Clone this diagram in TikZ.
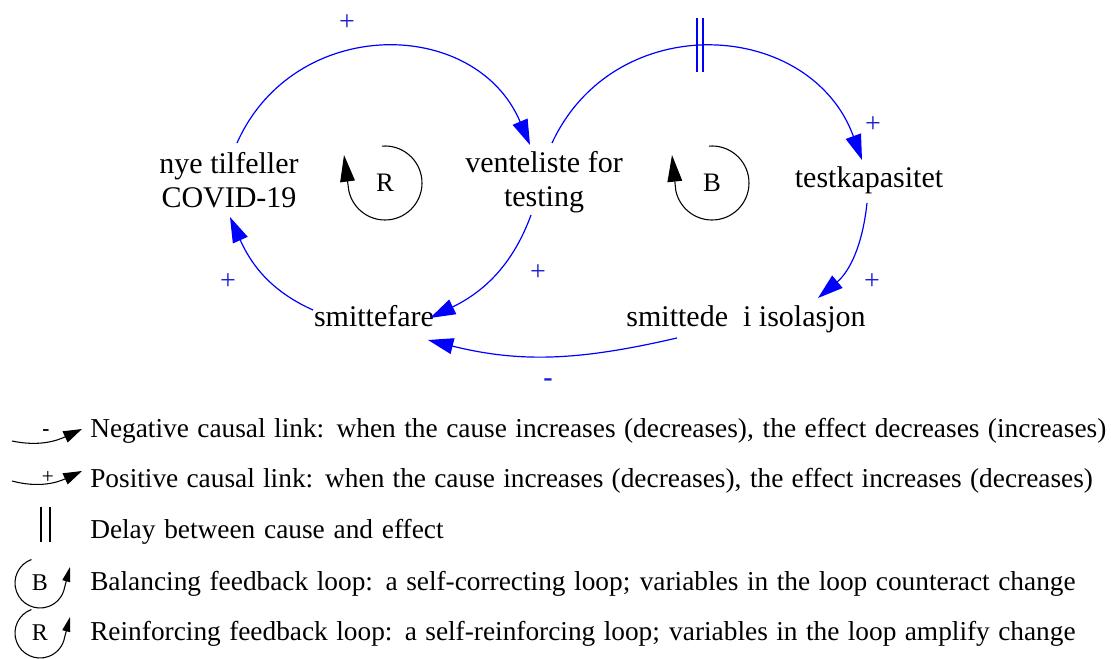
\documentclass[tikz,border=0pt]{standalone}
\usepackage{fontspec}
\setmainfont{Liberation Serif}
\newfontfamily\tnr{Liberation Serif}
\usetikzlibrary{arrows.meta,calc}
\definecolor{linkblue}{RGB}{0,0,255}
\definecolor{polblue}{RGB}{30,30,210}
\begin{document}
\begin{tikzpicture}[x=0.75pt,y=0.75pt,
  var/.style={inner sep=0pt,font=\tnr\fontsize{22.5}{25.5}\selectfont,align=center},
  pol/.style={inner sep=0pt,text=polblue,font=\tnr\fontsize{21}{21}\selectfont},
  link/.style={draw=linkblue,line width=0.9pt,-{Triangle[length=19pt,width=12pt]}},
  delaymark/.style={draw=linkblue,line width=0.9pt},
  loopl/.style={draw=black,line width=0.8pt},
  looplab/.style={inner sep=0pt,font=\tnr\fontsize{20}{20}\selectfont},
  leglab/.style={inner sep=0pt,font=\tnr\fontsize{18}{18}\selectfont},
  legtext/.style={inner sep=0pt,anchor=base west,font=\tnr\fontsize{20.5}{20.5}\selectfont},
  legsign/.style={inner sep=0pt,font=\tnr\fontsize{16}{16}\selectfont},
  leglink/.style={draw=black,line width=0.8pt,-{Triangle[length=14pt,width=9pt]}},
]
\useasboundingbox (0,0) rectangle (1111,-659);

% variables
\node[var] (nye) at (229,-180) {nye tilfeller\\COVID-19};
\node[var] (vent) at (544,-182) {venteliste for\\testing};
\node[var,anchor=base] (testk) at (869,-188) {testkapasitet};
\node[var,anchor=base] (smitte) at (374,-327) {smittefare};
\node[var,anchor=base] (isol) at (746,-327) {smittede\ \ i isolasjon};

% causal links
\draw[link] ($(nye)+(8,37)$) to[out=66,in=113,looseness=1.22] ($(vent)+(-14,37)$);
\draw[link] ($(vent)+(8,39)$) to[out=65,in=110,looseness=1.235] ($(testk.base)+(-7,28)$);
\draw[link] ($(vent)+(-13,-33)$) to[out=250,in=26] ($(smitte.base)+(56,9)$);
\draw[link] ($(smitte.base)+(-61,17)$) to[out=156,in=-66] ($(nye)+(1,-37)$);
\draw[link] ($(isol.base)+(-69,-11)$) to[out=193,in=-14] ($(smitte.base)+(54,-13)$);
\draw[link] ($(testk.base)+(-2,-15)$) to[out=264,in=40] ($(isol.base)+(72,29)$);

% delay
\draw[delaymark] (697,-18) -- (697,-72) (703,-18) -- (703,-72);

% polarities
\node[pol] (p1) at (347,-23) {+};
\node[pol] (p2) at (873,-125) {+};
\node[pol] (p3) at (538,-273) {+};
\node[pol] (p4) at (228,-282) {+};
\node[pol] (p5) at (872,-282) {+};
\node[pol,font=\tnr\fontsize{21}{21}\selectfont\bfseries] (m1) at (548,-383) {-};

% loop symbols
\node[looplab] (Rl) at (385,-183) {R};
\draw[loopl,-{Triangle[length=20pt,width=11pt]}] ($(Rl)+(95:37)$) arc[start angle=95,end angle=-168,radius=37] -- ($(Rl)+(-41,28)$);
\node[looplab] (Bl) at (712,-183) {B};
\draw[loopl,-{Triangle[length=20pt,width=11pt]}] ($(Bl)+(95:37)$) arc[start angle=95,end angle=-168,radius=37] -- ($(Bl)+(-40,28)$);

% legend
\node[legtext] (l1) at (90,-437) {\makebox[762pt][s]{Negative causal link: when the cause increases (decreases), the effect decreases (increases)}};
\draw[leglink] ($(l1.base west)+(-78,-4)$) to[out=-12,in=205] ($(l1.base west)+(-8,8)$);
\node[legsign,font=\tnr\fontsize{16}{16}\selectfont\bfseries] (s1) at ($(l1.base west)+(-44,4)$) {-};

\node[legtext] (l2) at (90,-487) {\makebox[752pt][s]{Positive causal link: when the cause increases (decreases), the effect increases (decreases)}};
\draw[leglink] ($(l2.base west)+(-78,6)$) to[out=-15,in=205] ($(l2.base west)+(-8,16)$);
\node[legsign] (s2) at ($(l2.base west)+(-42,10)$) {+};

\node[legtext] (l3) at (90,-538) {\makebox[265pt][s]{Delay between cause and effect}};
\draw[draw=black,line width=0.8pt] ($(l3.base west)+(-49,31)$) -- ($(l3.base west)+(-49,-4)$)
  ($(l3.base west)+(-40,31)$) -- ($(l3.base west)+(-40,-4)$);

\node[legtext] (l4) at (90,-590) {\makebox[739pt][s]{Balancing feedback loop: a self-correcting loop; variables in the loop counteract change}};
\node[leglab] (lb) at (40,-583) {B};
\draw[loopl,-{Triangle[length=11pt,width=6pt]}] ($(lb)+(110:25)$) arc[start angle=110,end angle=350,radius=25] -- ($(lb)+(30,16)$);

\node[legtext] (l5) at (90,-640) {\makebox[739pt][s]{Reinforcing feedback loop: a self-reinforcing loop; variables in the loop amplify change}};
\node[leglab] (lr) at (40,-633) {R};
\draw[loopl,-{Triangle[length=11pt,width=6pt]}] ($(lr)+(110:25)$) arc[start angle=110,end angle=350,radius=25] -- ($(lr)+(30,16)$);
\end{tikzpicture}
\end{document}
